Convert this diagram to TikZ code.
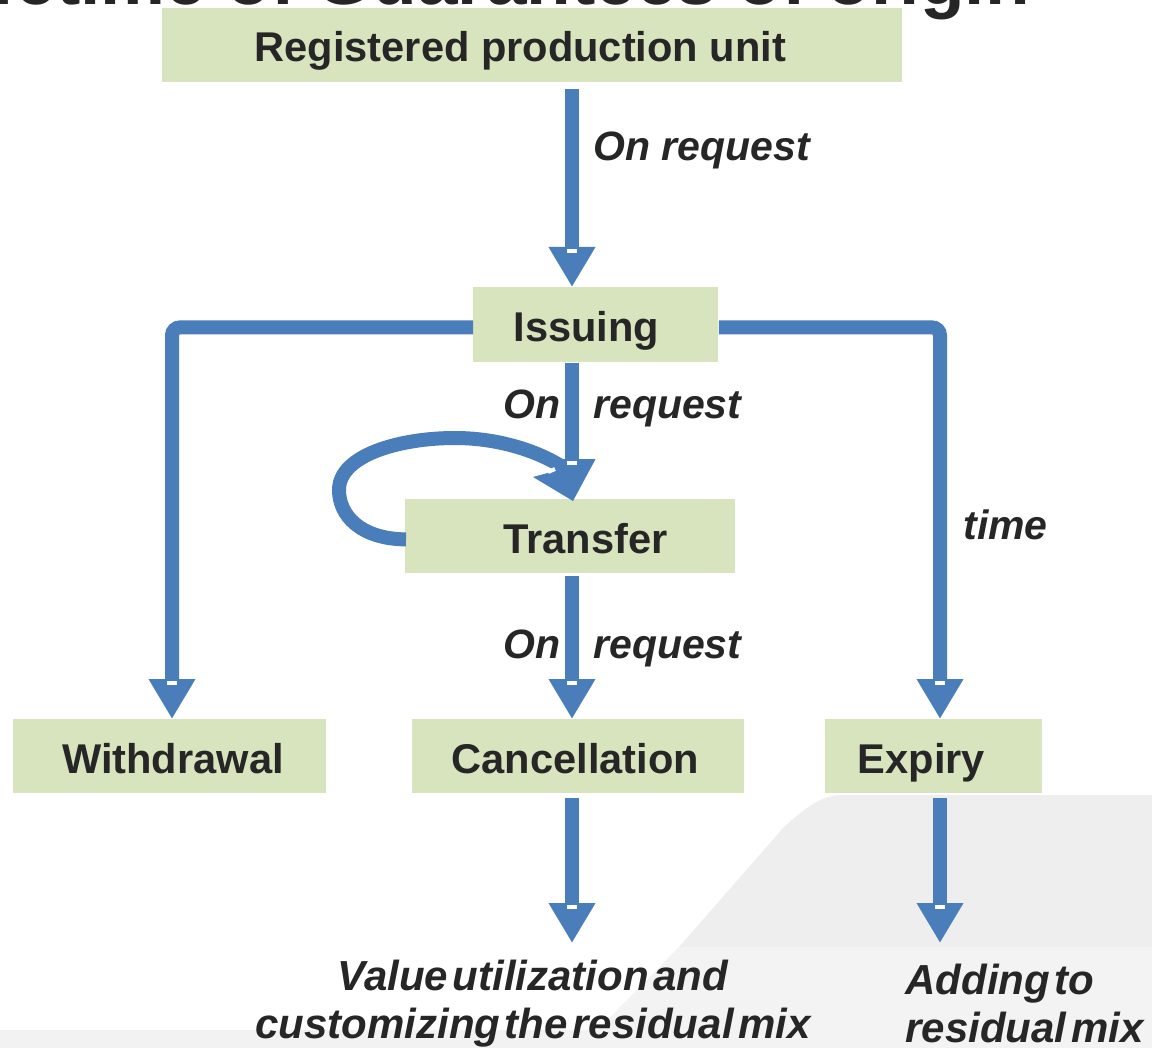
\documentclass[tikz,border=0pt]{standalone}
\usepackage{fontspec}
\setmainfont{Liberation Sans}
\usetikzlibrary{arrows.meta,calc}
\definecolor{boxgreen}{HTML}{D7E4BD}
\definecolor{arrblue}{HTML}{4A7EBB}
\definecolor{textgray}{HTML}{262626}
\definecolor{bgA}{HTML}{EEEEEE}
\definecolor{bgB}{HTML}{F3F3F3}
\definecolor{bgC}{HTML}{F2F2F2}
\newcommand\whitedash[1]{\fill[white] ($(#1)+(-5,-38)$) rectangle ($(#1)+(5,-34)$);}
\begin{document}
\begin{tikzpicture}[x=0.5pt,y=-0.5pt,
  box/.style={fill=boxgreen, inner sep=0pt, anchor=north west, text=textgray,
    font={\bfseries\fontsize{20.8}{25}\selectfont}, text height=18.7pt, text depth=2.1pt},
  arr/.style={draw=arrblue, line width=7pt, -{Triangle[width=22pt,length=20pt]}},
  loopline/.style={draw=arrblue, line width=7pt},
  lbl/.style={text=textgray, font={\bfseries\itshape\fontsize{20.5}{24}\selectfont}, inner sep=0pt},
  endtxt/.style={text=textgray, font={\bfseries\itshape\fontsize{21}{24}\selectfont\spaceskip=0.11em\relax}, inner sep=0pt},
  titletxt/.style={text=textgray, font={\bfseries\fontsize{36.5}{40}\selectfont}, inner sep=0pt}]
\useasboundingbox (0,0) rectangle (1152,1048);
\fill[white] (0,0) rectangle (1152,1048);
% background
\fill[bgA] (841,795) -- (1152,795) -- (1152,947) -- (679,947) -- (784,827) .. controls (805,808) and (822,795) .. cycle;
\fill[bgB] (679,947) -- (1152,947) -- (1152,1048) -- (580,1048) -- cycle;
\fill[bgC] (0,1030) rectangle (600,1048);
% title
\node[titletxt, anchor=base east] (title) at (1030,5) {Lifetime of Guarantees of origin};
% boxes
\node[box, minimum width=370pt, minimum height=37pt] (reg) at (162,8) {\kern-12pt Registered production unit};
\node[box, minimum width=122.5pt, minimum height=37.5pt] (iss) at (473,287) {\kern-9.5pt Issuing};
\node[box, minimum width=165pt, minimum height=37pt] (tr) at (405,499) {\kern15pt Transfer};
\node[box, minimum width=156.5pt, minimum height=37pt] (wd) at (13,719) {\kern3pt Withdrawal};
\node[box, minimum width=166pt, minimum height=37pt] (can) at (412,719) {\kern-3pt Cancellation};
\node[box, minimum width=108.5pt, minimum height=37pt] (exp) at (825,719) {\kern-12.5pt Expiry};
% helper coordinates
\coordinate (cx) at (572,0);
\coordinate (lx) at (172,0);
\coordinate (rx) at (940,0);
\coordinate (bot) at (0,943);
\coordinate (t1) at (iss.north -| cx);
\coordinate (t2) at (tr.north -| cx);
\coordinate (t3) at (can.north -| cx);
\coordinate (t4) at (cx |- bot);
\coordinate (t5) at (rx |- bot);
\coordinate (t6) at (wd.north -| lx);
\coordinate (t7) at (exp.north -| rx);
% connectors
\draw[arr] ($(reg.south -| cx)+(0,6)$) -- (t1);
\draw[arr, rounded corners=4pt] ($(iss.west)+(0,2.5)$) -| (t6);
\draw[arr, rounded corners=4pt] ($(iss.east)+(0,2.5)$) -| (t7);
\draw[loopline] ($(tr.west)+(1,3)$) .. controls (360,539) and (339,515) .. (339,490)
   .. controls (339,455) and (400,438) .. (455,438)
   .. controls (500,438) and (540,452) .. ($(t2)+(-8,-31)$);
\fill[arrblue] ($(t2)+(-39,-22)$) -- ($(t2)+(23,-39)$) -- ($(t2)+(1,2)$) -- cycle;
\draw[arr] (iss.south -| cx) -- (t2);
\draw[arr] ($(tr.south -| cx)+(0,2)$) -- (t3);
\draw[arr] ($(can.south -| cx)+(0,4)$) -- (t4);
\draw[arr] ($(exp.south -| rx)+(0,4)$) -- (t5);
\whitedash{t1}
\whitedash{t2}
\whitedash{t3}
\whitedash{t4}
\whitedash{t5}
\whitedash{t6}
\whitedash{t7}
\draw[white, line width=2pt] ($(t2)+(-24,-27)$) -- ($(t2)+(-17,-30)$);
% labels
\node[lbl, anchor=base west] (l1) at (593,161) {On request};
\node[lbl, anchor=base west] (l2) at (503,418) {On\hspace{16.5pt}request};
\node[lbl, anchor=base west] (l3) at (503,658) {On\hspace{16.5pt}request};
\node[lbl, anchor=base west] (l4) at (963,539) {time};
\node[endtxt, align=center] (v) at (533,1004) {Value utilization and\\customizing the residual mix};
\node[endtxt, align=left, anchor=west] (a) at (905,1003) {Adding to\\residual mix};
\end{tikzpicture}
\end{document}
